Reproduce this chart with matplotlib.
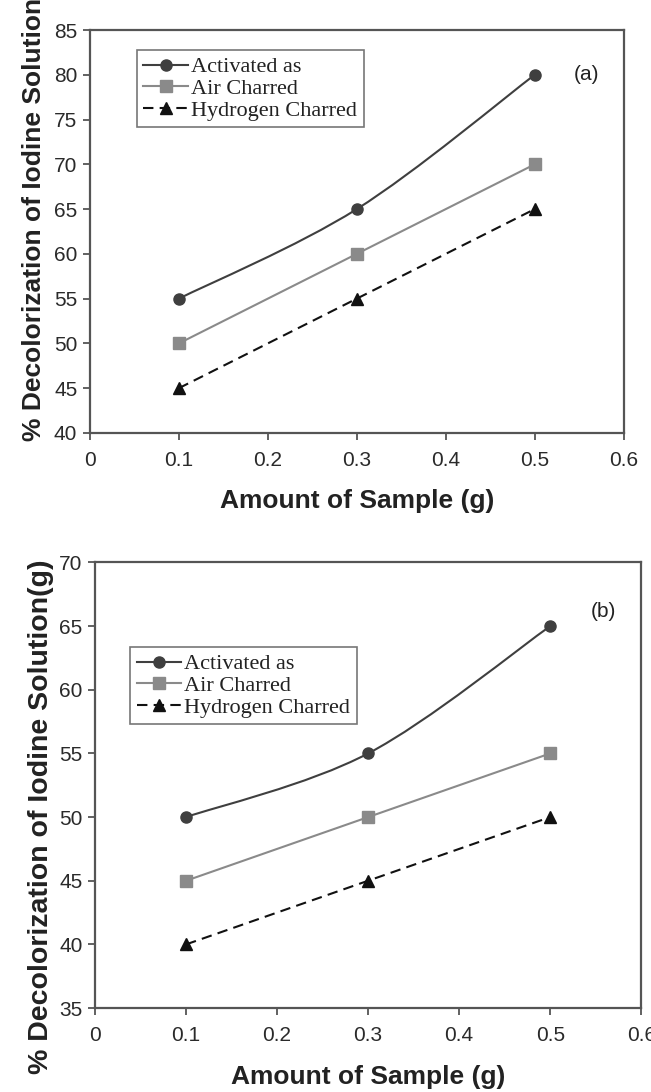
import matplotlib
matplotlib.use("Agg")
import matplotlib.pyplot as plt
from matplotlib.path import Path
from matplotlib.patches import PathPatch
from matplotlib.lines import Line2D
import numpy as np

# sample amounts (g)
amount = [0.1, 0.3, 0.5]

# panel (a)
act_a = [55, 65, 80]
air_a = [50, 60, 70]
hyd_a = [45, 55, 65]

# panel (b)
act_b = [50, 55, 65]
air_b = [45, 50, 55]
hyd_b = [40, 45, 50]

series_names = ["Activated as", "Air Charred", "Hydrogen Charred"]
x_ticks = [0, 0.1, 0.2, 0.3, 0.4, 0.5, 0.6]
x_labels = ["0", "0.1", "0.2", "0.3", "0.4", "0.5", "0.6"]

styles = [
    dict(color="#3f3f3f", marker="o", ls="-"),
    dict(color="#8a8a8a", marker="s", ls="-"),
    dict(color="#111111", marker="^", ls=(0, (5, 3))),
]

plt.rcParams['font.family'] = ['Liberation Sans', 'DejaVu Sans']


def smooth_path(xs, ys):
    # excel-like smoothed line: cubic bezier segments through the points
    pts = np.column_stack([xs, ys]).astype(float)
    ext = np.vstack([pts[0], pts, pts[-1]])
    verts = [tuple(pts[0])]
    codes = [Path.MOVETO]
    for i in range(len(pts) - 1):
        p0, p1, p2, p3 = ext[i], ext[i + 1], ext[i + 2], ext[i + 3]
        c1 = p1 + (p2 - p0) / 6
        c2 = p2 - (p3 - p1) / 6
        verts += [tuple(c1), tuple(c2), tuple(p2)]
        codes += [Path.CURVE4] * 3
    return Path(verts, codes)


def draw_panel(ax, data, ylim, yticks, ylabel, ylab_size, ylab_pos, tag, leg_box):
    handles = []
    for ys, st, name in zip(data, styles, series_names):
        patch = PathPatch(smooth_path(amount, ys), fill=False, edgecolor=st["color"],
                          lw=1.5, linestyle=st["ls"], zorder=2)
        ax.add_patch(patch)
        ax.plot(amount, ys, ls="none", marker=st["marker"], color=st["color"],
                ms=8, zorder=3)
        handles.append(Line2D([], [], color=st["color"], marker=st["marker"],
                              ls=st["ls"], lw=1.5, ms=8, label=name))
    ax.set_xlim(0, 0.6)
    ax.set_ylim(*ylim)
    ax.set_xticks(x_ticks)
    ax.set_xticklabels(x_labels)
    ax.set_yticks(yticks)
    for s in ax.spines.values():
        s.set_color("#555555")
        s.set_linewidth(1.6)
    ax.tick_params(direction="out", length=5, width=1.3, color="#555555",
                   labelsize=15, labelcolor="#2a2a2a")
    ax.tick_params(axis="x", pad=8)
    ax.tick_params(axis="y", pad=4)
    ax.set_xlabel("Amount of Sample (g)", fontsize=19, fontweight="bold",
                  color="#222222", labelpad=14)
    ax.set_ylabel(ylabel, fontsize=ylab_size, fontweight="bold", color="#222222")
    ax.yaxis.set_label_coords(*ylab_pos)
    ax.text(0.93, 0.89, tag, transform=ax.transAxes, fontsize=15,
            color="#222222", ha="center", va="center")
    leg = ax.legend(handles=handles, loc="upper left", bbox_to_anchor=leg_box,
                    prop={"family": "Liberation Serif", "size": 16},
                    frameon=True, fancybox=False, edgecolor="#555555",
                    handlelength=2.0, handletextpad=0.15, borderpad=0.3,
                    labelspacing=0.05, borderaxespad=0)
    leg.get_frame().set_linewidth(1.2)
    for t in leg.get_texts():
        t.set_color("#222222")


fig = plt.figure(figsize=(6.51, 10.92), dpi=100)

ax1 = fig.add_axes([0.138, 0.6035, 0.820, 0.369])
draw_panel(ax1, [act_a, air_a, hyd_a], (40, 85), range(40, 90, 5),
           "% Decolorization of Iodine Solution", 19, (-0.082, 0.53),
           "(a)", (0.088, 0.95))

ax2 = fig.add_axes([0.146, 0.0769, 0.839, 0.408])
draw_panel(ax2, [act_b, air_b, hyd_b], (35, 70), range(35, 75, 5),
           "% Decolorization of Iodine Solution(g)", 20.5, (-0.075, 0.43),
           "(b)", (0.064, 0.81))

fig.savefig("out.png", dpi=100)
